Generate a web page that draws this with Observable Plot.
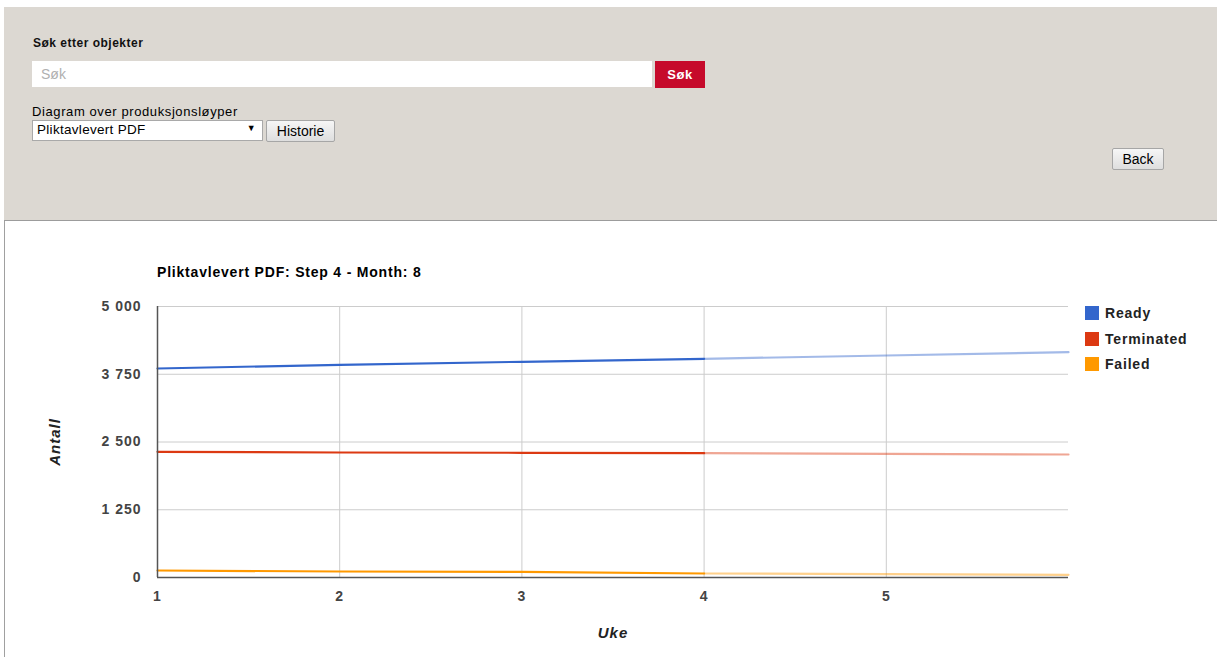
<!DOCTYPE html>
<html>
<head>
<meta charset="utf-8">
<script src="https://cdn.jsdelivr.net/npm/d3@7"></script>
<script src="https://cdn.jsdelivr.net/npm/@observablehq/plot@0.6"></script>
<style>
  html, body { margin: 0; padding: 0; background: #fff; width: 1217px; height: 657px; overflow: hidden; font-family: Arial, "Liberation Sans", sans-serif; }
  .panel { position: absolute; left: 4px; top: 7px; width: 1213px; height: 213px; background: #dcd8d2; border-bottom: 1px solid #9c9c9c; }
  .leftline { position: absolute; left: 4px; top: 221px; width: 1px; height: 436px; background: #a0a0a0; }
  .lbl { position: absolute; font-size: 12px; color: #111; }
  .input { position: absolute; left: 32px; top: 61px; width: 620px; height: 26px; background: #fff; }
  .input span { position: absolute; left: 9px; top: 5px; font-size: 14px; color: #b0b0b0; }
  .sok { position: absolute; left: 655px; top: 61px; width: 50px; height: 27px; background: #c60a2b; color: #fff; font-weight: bold; font-size: 13px; letter-spacing: 0.5px; text-align: center; line-height: 27px; }
  .select { position: absolute; left: 32px; top: 120px; width: 229px; height: 19px; background: #fff; border: 1px solid #a9a9a9; font-size: 13.5px; color: #000; letter-spacing: 0.3px; }
  .select span { position: absolute; left: 4px; top: 1px; }
  .select b { position: absolute; right: 6px; top: 2px; font-size: 9px; }
  .btn { position: absolute; height: 20px; background: linear-gradient(#f6f6f6, #dedede); border: 1px solid #a6a6a6; border-radius: 2px; font-size: 14px; color: #000; text-align: center; line-height: 20px; }
  #chart { position: absolute; left: 0; top: 220px; }
  #chart svg text { letter-spacing: 1px; }
  .title { position: absolute; left: 157px; top: 264px; font-size: 14px; letter-spacing: 0.8px; font-weight: bold; color: #000; }
  .legend { position: absolute; left: 1085px; top: 305px; font-size: 14px; letter-spacing: 0.8px; font-weight: bold; color: #222; }
  .legend div { height: 25.5px; display: flex; align-items: flex-start; }
  .legend i { display: inline-block; width: 14px; height: 14px; margin-right: 6px; margin-top: 1px; }
</style>
</head>
<body>
<div class="panel"></div>
<div class="leftline"></div>
<div class="lbl" style="left:33px;top:36px;font-weight:bold;letter-spacing:0.5px;">Søk etter objekter</div>
<div class="input"><span>Søk</span></div>
<div class="sok">Søk</div>
<div class="lbl" style="left:32px;top:104px;font-size:13px;letter-spacing:0.6px;color:#000;">Diagram over produksjonsløyper</div>
<div class="select"><span>Pliktavlevert PDF</span><b>▼</b></div>
<div class="btn" style="left:266px;top:120px;width:67px;">Historie</div>
<div class="btn" style="left:1112px;top:148px;width:50px;">Back</div>
<div id="chart"></div>
<div class="title">Pliktavlevert PDF: Step 4 - Month: 8</div>
<div class="legend" id="legend"></div>
<script>
const weeks = [1, 2, 3, 4, 5, 6];
const ready = [3856, 3924, 3980, 4035, 4096, 4157];
const terminated = [2319, 2306, 2301, 2294, 2282, 2269];
const failed = [129, 111, 105, 74, 62, 50];
const seriesNames = ["Ready", "Terminated", "Failed"];
const seriesColors = ["#3366cc", "#dc3912", "#ff9900"];
const yTicks = [0, 1250, 2500, 3750, 5000];
const xTicks = [1, 2, 3, 4, 5];
const lastActualWeek = 4;

const seriesValues = [ready, terminated, failed];
const rows = [];
seriesNames.forEach((name, s) => {
  weeks.forEach((w, i) => rows.push({series: name, week: w, value: seriesValues[s][i]}));
});
const actual = rows.filter(d => d.week <= lastActualWeek);
const projected = rows.filter(d => d.week >= lastActualWeek);

const fmt = d => d3.format(",")(d).replace(/,/g, " ");

const chart = Plot.plot({
  width: 1217,
  height: 437,
  marginLeft: 157,
  marginRight: 149,
  marginTop: 86,
  marginBottom: 80,
  style: {fontFamily: "Arial, 'Liberation Sans', sans-serif", fontSize: "14px", fontWeight: "bold", color: "#444", background: "transparent"},
  x: {domain: [1, 6]},
  y: {domain: [0, 5000]},
  color: {domain: seriesNames, range: seriesColors},
  marks: [
    Plot.gridX(xTicks, {stroke: "#cccccc", strokeOpacity: 1}),
    Plot.gridY(yTicks, {stroke: "#cccccc", strokeOpacity: 1}),
    Plot.axisX(xTicks, {tickSize: 0, tickPadding: 14, tickFormat: d => d, label: null, fill: "#444"}),
    Plot.axisY(yTicks, {tickSize: 0, tickPadding: 16, tickFormat: fmt, label: null, fill: "#444"}),
    Plot.line(projected, {x: "week", y: "value", z: "series", stroke: "series", strokeWidth: 2.2, strokeOpacity: 0.45}),
    Plot.line(actual, {x: "week", y: "value", z: "series", stroke: "series", strokeWidth: 2.2}),
    Plot.ruleX([1], {stroke: "#555", strokeWidth: 1.5}),
    Plot.ruleY([0], {stroke: "#555", strokeWidth: 1.5}),
    Plot.text(["Antall"], {frameAnchor: "left", textAnchor: "middle", dx: -102, rotate: -90, fontStyle: "italic", fontWeight: "bold", fontSize: 15, fill: "#222"}),
    Plot.text(["Uke"], {frameAnchor: "bottom", dy: 60, fontStyle: "italic", fontWeight: "bold", fontSize: 15, fill: "#222"})
  ]
});
document.getElementById("chart").appendChild(chart);

const legend = document.getElementById("legend");
seriesNames.forEach((n, i) => {
  const row = document.createElement("div");
  row.innerHTML = `<i style="background:${seriesColors[i]}"></i><span>${n}</span>`;
  legend.appendChild(row);
});
</script>
</body>
</html>
